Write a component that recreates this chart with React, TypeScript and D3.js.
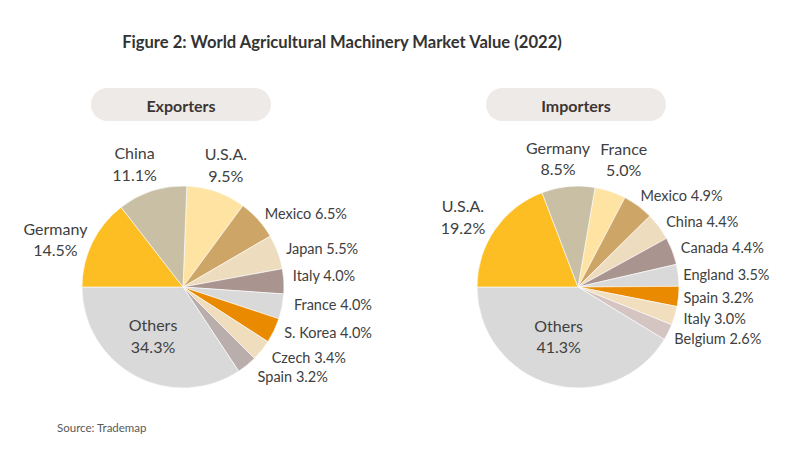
import * as d3 from "d3";

// clockwise from 12 o'clock
const exportNames = ["U.S.A.", "Mexico", "Japan", "Italy", "France", "S. Korea", "Czech", "Spain", "Others", "Germany", "China"];
const exportValues = [9.5, 6.5, 5.5, 4.0, 4.0, 4.0, 3.4, 3.2, 34.3, 14.5, 11.1];
const exportColors = ["#FEE3A2", "#CDA566", "#EEDCBF", "#A9948F", "#D9D9D9", "#E98A00", "#EFDDBD", "#B9AEAB", "#D9D9D9", "#FDBE24", "#C8BFA4"];
const exportStacked = ["U.S.A.", "Germany", "China"];

const importNames = ["France", "Mexico", "China", "Canada", "England", "Spain", "Italy", "Belgium", "Others", "U.S.A.", "Germany"];
const importValues = [5.0, 4.9, 4.4, 4.4, 3.5, 3.2, 3.0, 2.6, 41.3, 19.2, 8.5];
const importColors = ["#FEE3A2", "#CDA566", "#EEDCBF", "#A9948F", "#D9D9D9", "#E98A00", "#F1DEBE", "#D4C4C2", "#D9D9D9", "#FDBE24", "#C8BFA4"];
const importStacked = ["France", "U.S.A.", "Germany"];

// small hand nudges like Excel's dragged labels
const exportNudge: Record<string, [number, number]> = {
  China: [-10, 0], Germany: [-7, 9], Italy: [0, -5], France: [3, -4], "S. Korea": [2, -2], Czech: [3, 1], Spain: [5, 4],
  Others: [-3, -2],
};
const importNudge: Record<string, [number, number]> = {
  Germany: [-7, 0], France: [4, -5], "U.S.A.": [-8, 3], Mexico: [-3, -3], England: [-4, 0], Spain: [-4, 0], Belgium: [-2, 2],
  Others: [-4, -6],
};

const FONT = "Lato, 'Open Sans', sans-serif";
const R = 101;
const LABEL = 16;

function fmt(v: number) {
  return d3.format(".1f")(v) + "%";
}

function Pie({ cx, cy, title, names, values, colors, stacked, nudge }: any) {
  const total = d3.sum(values as number[]);
  const othersIdx = names.indexOf("Others");
  const upToOthers = d3.sum(values.slice(0, othersIdx + 1) as number[]);
  // "Others" ends at 9 o'clock
  const start = 1.5 * Math.PI - (2 * Math.PI * upToOthers) / total;
  const pie = d3.pie<number>().sort(null).value((d) => d).startAngle(start).endAngle(start + 2 * Math.PI);
  const arcs = pie(values);
  const arc = d3.arc<d3.PieArcDatum<number>>().innerRadius(0).outerRadius(R);

  return (
    <g>
      <rect x={cx - 92} y={88} width={180} height={33} rx={16.5} fill="#EEEAE8" />
      <text x={cx - 2} y={105} textAnchor="middle" dominantBaseline="central" fontFamily={FONT} fontWeight={700} fontSize={16} fill="#3D3533">
        {title}
      </text>
      <g transform={`translate(${cx},${cy})`}>
        {arcs.map((a, i) => (
          <path key={i} d={arc(a) as string} fill={colors[i]} stroke="#fff" strokeWidth={0.6} />
        ))}
        {arcs.map((a, i) => {
          const name = names[i];
          const mid = (a.startAngle + a.endAngle) / 2;
          const s = Math.sin(mid);
          const c = -Math.cos(mid);
          const [nx, ny] = nudge[name] || [0, 0];
          if (name === "Others") {
            const x = s * 57 + nx;
            const y = c * 57 + ny;
            return (
              <text key={"l" + i} x={x} y={y} textAnchor="middle" fontFamily={FONT} fontSize={LABEL} fill="#404040">
                <tspan x={x} dy="-0.25em">{name}</tspan>
                <tspan x={x} dy="1.35em">{fmt(values[i])}</tspan>
              </text>
            );
          }
          if (stacked.includes(name)) {
            const halfW = Math.max(name.length, 5) * LABEL * 0.27;
            const x = s * (R + 3) + s * halfW + nx;
            const y = c * (R + 3) + c * 26 + ny;
            return (
              <text key={"l" + i} x={x} y={y} textAnchor="middle" fontFamily={FONT} fontSize={LABEL} fill="#404040">
                <tspan x={x} dy="-0.25em">{name}</tspan>
                <tspan x={x} dy="1.35em">{fmt(values[i])}</tspan>
              </text>
            );
          }
          const x = s * (R + 9) + nx;
          const y = c * (R + 9) + ny;
          return (
            <text key={"l" + i} x={x} y={y} dominantBaseline="central" fontFamily={FONT} fontSize={LABEL - 1.5} fill="#404040">
              {name} {fmt(values[i])}
            </text>
          );
        })}
      </g>
    </g>
  );
}

export default function App() {
  return (
    <div style={{ position: "absolute", left: 0, top: 0 }}>
      <svg width={800} height={455} style={{ display: "block", background: "#fff" }}>
        <text x={342} y={48} textAnchor="middle" fontFamily={FONT} fontWeight={700} fontSize={16.6} fill="#333">
          Figure 2: World Agricultural Machinery Market Value (2022)
        </text>
        <Pie cx={183} cy={287} title="Exporters" names={exportNames} values={exportValues} colors={exportColors} stacked={exportStacked} nudge={exportNudge} />
        <Pie cx={578} cy={287} title="Importers" names={importNames} values={importValues} colors={importColors} stacked={importStacked} nudge={importNudge} />
        <text x={57} y={432} fontFamily={FONT} fontSize={11.5} fill="#595959">
          Source: Trademap
        </text>
      </svg>
    </div>
  );
}
